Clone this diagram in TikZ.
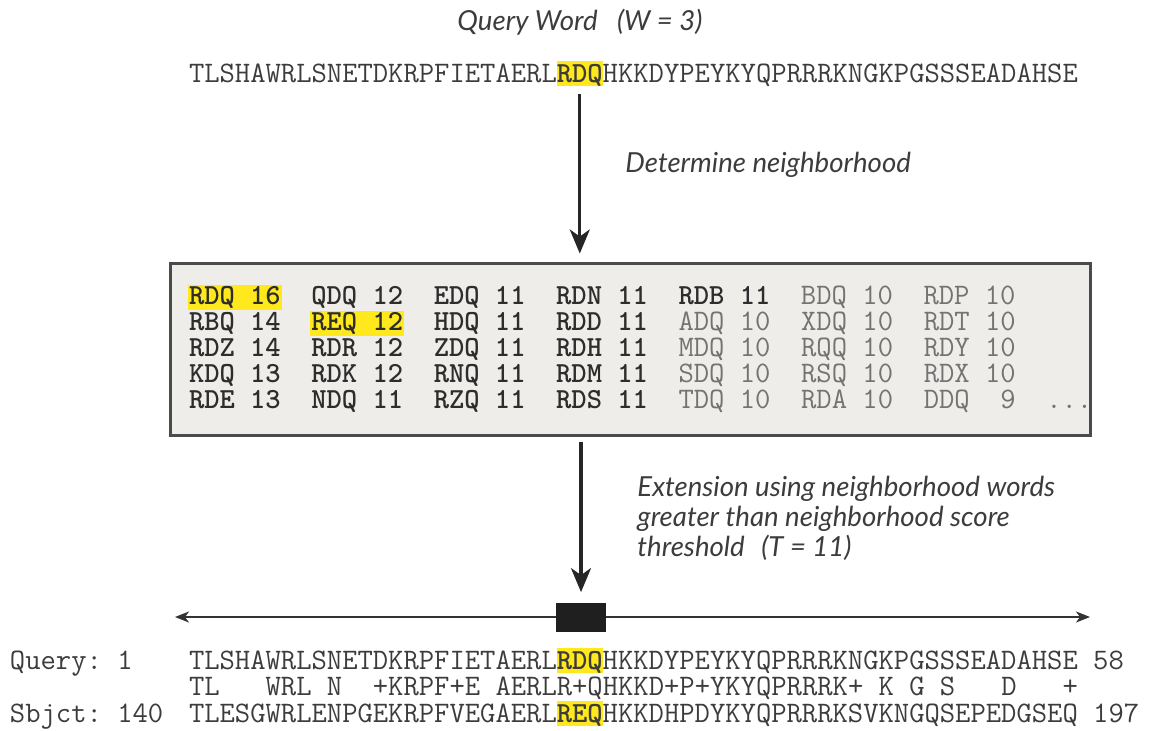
\documentclass[tikz,border=0pt]{standalone}
\usepackage{fontspec}
\setmainfont{Lato}
\usetikzlibrary{positioning,arrows.meta}

\definecolor{hlyellow}{RGB}{255,232,28}
\definecolor{boxfill}{RGB}{238,237,234}
\definecolor{boxline}{RGB}{75,75,75}
\definecolor{seqink}{RGB}{60,60,60}
\definecolor{tabink}{RGB}{45,45,45}
\definecolor{dimink}{RGB}{115,115,115}
\definecolor{capink}{RGB}{60,60,60}

% typewriter sequence font, 15.3px per letter (regular and bold)
\newcommand{\seqfont}{\ttfamily\fontsize{14.88pt}{13pt}\selectfont}
\newcommand{\strongfont}{\ttfamily\bfseries\fontsize{14.57pt}{13pt}\selectfont}
\newcommand{\capfont}{\fontsize{13.8pt}{15pt}\selectfont\itshape}
\setlength{\fboxsep}{0.5pt}
% yellow marker behind a table word
\newcommand{\hlw}[1]{\hspace*{-\fboxsep}\colorbox{hlyellow}{\rule[-2.5pt]{0pt}{10.5pt}#1}\hspace*{-\fboxsep}}
\newcommand{\weak}[1]{{\seqfont\mdseries\color{dimink}#1}}

\begin{document}
\begin{tikzpicture}[x=0.5pt,y=-0.5pt,
seq/.style={
% monospaced sequence text
inner sep=0pt, outer sep=0pt,
anchor=base west,
font=\seqfont, text=seqink},
hl/.style={
% highlighted word
fill=hlyellow, inner ysep=0pt, font=\strongfont,
text height=10.5pt, text depth=2pt},
cell/.style={seq, font=\strongfont, text=tabink},
caption/.style={font=\capfont, text=capink, inner sep=0pt},
flow/.style={line width=1.6pt, draw=black!85,
-{Stealth[length=12pt,width=10pt,inset=3.5pt]}},
thinflow/.style={line width=1pt, draw=black!80,
-{Stealth[length=7pt,width=5.5pt,inset=2pt]}}]

\useasboundingbox (0,0) rectangle (1155,730);

\node (qword) [caption] at (580,22) {Query Word\hspace{0.7em}(W = 3)};

\node (qtl) [seq] at (189,82) {TLSHAWRLSNETDKRPFIETAERL};
\node (qrdq) [seq, hl, base right=0pt of qtl] {RDQ};
\node (qtr) [seq, base right=0pt of qrdq] {HKKDYPEYKYQPRRRKNGKPGSSSEADAHSE};

\node (nbox) [draw=boxline, fill=boxfill, line width=1.5pt,
minimum width=460pt, minimum height=86pt] at (630,349) {};

\foreach \rtext [count=\r] in {
{\hlw{RDQ~16}~~QDQ~12~~EDQ~11~~RDN~11~~RDB~11~~\weak{BDQ~10~~RDP~10}},
{RBQ~14~~\hlw{REQ~12}~~HDQ~11~~RDD~11~~\weak{ADQ~10~~XDQ~10~~RDT~10}},
{RDZ~14~~RDR~12~~ZDQ~11~~RDH~11~~\weak{MDQ~10~~RQQ~10~~RDY~10}},
{KDQ~13~~RDK~12~~RNQ~11~~RDM~11~~\weak{SDQ~10~~RSQ~10~~RDX~10}},
{RDE~13~~NDQ~11~~RZQ~11~~RDS~11~~\weak{TDQ~10~~RDA~10~~DDQ~~9~~...}}}
\node (nrow\r) [cell] at (189,278+26*\r) {\rtext};

\node (detlab) [caption, anchor=west] at (625,165) {Determine neighborhood};

\node (seed) [fill=black!88, inner sep=0pt, minimum width=25pt,
minimum height=14.5pt] at (581,617) {};
\coordinate (extL) at (175,617);
\coordinate (extR) at (1090,617);

\node (extlab) [caption, anchor=north west, align=left] at (637,476)
{Extension using neighborhood words\\greater than neighborhood score\\threshold\hspace{0.6em}(T = 11)};

\node (qlab) [seq] at (10,669) {Query:~1};
\node (bql) [seq] at (189,669) {TLSHAWRLSNETDKRPFIETAERL};
\node (brdq) [seq, hl, base right=0pt of bql] {RDQ};
\node (bqr) [seq, base right=0pt of brdq] {HKKDYPEYKYQPRRRKNGKPGSSSEADAHSE~58};
\node (mid) [seq] at (189,695) {TL~~~WRL~N~~+KRPF+E~AERLR+QHKKD+P+YKYQPRRRK+~K~G~S~~~D~~~+};
\node (slab) [seq] at (10,722) {Sbjct:~140};
\node (bsl) [seq] at (189,722) {TLESGWRLENPGEKRPFVEGAERL};
\node (breq) [seq, hl, base right=0pt of bsl] {REQ};
\node (bsr) [seq, base right=0pt of breq] {HKKDHPDYKYQPRRRKSVKNGQSEPEDGSEQ~197};

\draw [flow, shorten <=4pt, shorten >=4pt] (qrdq.south) -- (qrdq.south |- nbox.north);
\draw [flow, shorten <=2.5pt, shorten >=5pt] (nbox.south -| seed) -- (seed.north);
\draw [thinflow] (seed.west) -- (extL);
\draw [thinflow] (seed.east) -- (extR);
\end{tikzpicture}
\end{document}
